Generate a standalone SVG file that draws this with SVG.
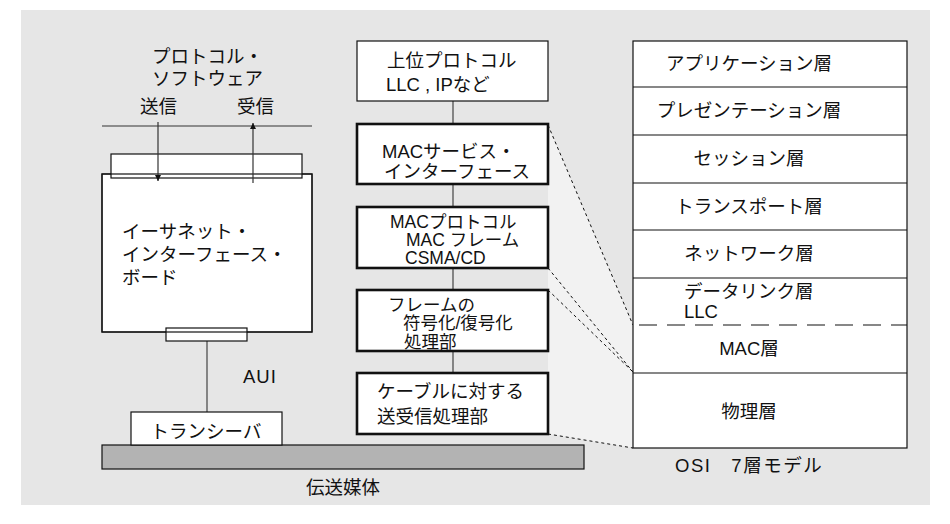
<svg xmlns="http://www.w3.org/2000/svg" width="950" height="524" viewBox="0 0 950 524">
<style>
text{font-family:"Liberation Sans","Noto Sans CJK JP",sans-serif;font-size:18.5px;fill:#111}
.c{text-anchor:middle}
.s{font-size:17.5px}
.thin{fill:#fff;stroke:#111;stroke-width:1.2}
.thick{fill:#fff;stroke:#111;stroke-width:2.6}
.ln{stroke:#444;stroke-width:1.2;fill:none}
.dash{stroke:#111;stroke-width:1;stroke-dasharray:3,3;fill:none}
</style>
<defs>
<marker id="ah" viewBox="0 0 10 10" refX="10" refY="5" markerWidth="6" markerHeight="8" markerUnits="userSpaceOnUse" orient="auto"><path d="M0,0L10,5L0,10z" fill="#111"/></marker>
</defs>
<rect x="0" y="0" width="950" height="524" fill="#fff"/>
<rect x="21" y="10" width="909" height="495" fill="#e6e6e6"/>
<polygon points="548,125 633,325 633,448 548,434" fill="#f2f2f2"/>

<g id="connectors">
<line class="ln" x1="453" y1="101" x2="453" y2="124"/>
<line class="ln" x1="453" y1="184" x2="453" y2="207"/>
<line class="ln" x1="453" y1="268" x2="453" y2="290"/>
<line class="ln" x1="453" y1="351" x2="453" y2="373"/>
<line class="ln" x1="207" y1="341" x2="207" y2="412"/>
<line class="dash" x1="548" y1="125" x2="633" y2="325"/>
<line class="dash" x1="548" y1="268" x2="633" y2="372"/>
<line class="dash" x1="548" y1="290" x2="633" y2="372"/>
<line class="dash" x1="548" y1="434" x2="633" y2="448"/>
</g>

<g id="software">
<text x="152" y="63">プロトコル・</text>
<text x="152" y="85">ソフトウェア</text>
<text x="140" y="113">送信</text>
<text x="237" y="113">受信</text>
<line x1="102" y1="126" x2="312" y2="126" stroke="#333" stroke-width="1.2"/>
</g>

<g id="board">
<rect class="thin" x="102" y="174" width="210" height="158"/>
<rect class="thin" x="111" y="154" width="191" height="24"/>
<rect class="thin" x="166" y="328" width="81" height="13"/>
<rect x="102" y="174" width="210" height="158" fill="none" stroke="#111" stroke-width="1.2"/>
<text x="122" y="238">イーサネット・</text>
<text x="122" y="261">インターフェース・</text>
<text x="122" y="284">ボード</text>
<line x1="158" y1="122" x2="158" y2="181" stroke="#333" stroke-width="1.2" marker-end="url(#ah)"/>
<line x1="253" y1="183" x2="253" y2="123" stroke="#333" stroke-width="1.2" marker-end="url(#ah)"/>
</g>

<g id="aui"><text x="243" y="383" letter-spacing="1">AUI</text></g>

<g id="medium">
<rect x="102" y="445" width="482" height="24" fill="#b3b3b3" stroke="#111" stroke-width="1.2"/>
<text class="c" x="343" y="494">伝送媒体</text>
</g>

<g id="transceiver">
<rect class="thin" x="131" y="412" width="151" height="33"/>
<text class="c" x="206" y="438">トランシーバ</text>
</g>

<g id="upper">
<rect class="thin" x="357" y="41" width="191" height="60"/>
<text x="387" y="67">上位プロトコル</text>
<text x="386" y="91">LLC , IPなど</text>
</g>
<g id="macservice">
<rect class="thick" x="357" y="124" width="191" height="60"/>
<text x="382" y="158">MACサービス・</text>
<text x="384" y="178">インターフェース</text>
</g>
<g id="macprotocol">
<rect class="thick" x="357" y="207" width="191" height="61"/>
<text class="s" x="390" y="228">MACプロトコル</text>
<text class="s" x="406" y="246">MAC フレーム</text>
<text class="s" x="405" y="264">CSMA/CD</text>
</g>
<g id="coding">
<rect class="thick" x="357" y="290" width="191" height="61"/>
<text class="s" x="388" y="311">フレームの</text>
<text class="s" x="403" y="329">符号化/復号化</text>
<text class="s" x="404" y="348">処理部</text>
</g>
<g id="cable">
<rect class="thick" x="357" y="373" width="191" height="61"/>
<text x="377" y="398">ケーブルに対する</text>
<text x="377" y="423">送受信処理部</text>
</g>

<g id="osi">
<rect x="633" y="41" width="274" height="407" fill="#fff" stroke="#111" stroke-width="1.2"/>
<line x1="633" y1="87" x2="907" y2="87" stroke="#111" stroke-width="1.2"/>
<line x1="633" y1="135" x2="907" y2="135" stroke="#111" stroke-width="1.2"/>
<line x1="633" y1="183" x2="907" y2="183" stroke="#111" stroke-width="1.2"/>
<line x1="633" y1="230" x2="907" y2="230" stroke="#111" stroke-width="1.2"/>
<line x1="633" y1="278" x2="907" y2="278" stroke="#111" stroke-width="1.2"/>
<line x1="633" y1="325" x2="907" y2="325" stroke="#111" stroke-width="1.2" stroke-dasharray="18,10" stroke-dashoffset="-6"/>
<line x1="633" y1="373" x2="907" y2="373" stroke="#111" stroke-width="1.2"/>
<text class="c" x="749" y="70">アプリケーション層</text>
<text class="c" x="749" y="117">プレゼンテーション層</text>
<text class="c" x="749" y="165">セッション層</text>
<text class="c" x="749" y="213">トランスポート層</text>
<text class="c" x="749" y="260">ネットワーク層</text>
<text x="684" y="298">データリンク層</text>
<text x="684" y="318">LLC</text>
<text class="c" x="749" y="355">MAC層</text>
<text class="c" x="749" y="418">物理層</text>
<text x="675" y="472" letter-spacing="1.5">OSI　7層モデル</text>
</g>
</svg>
